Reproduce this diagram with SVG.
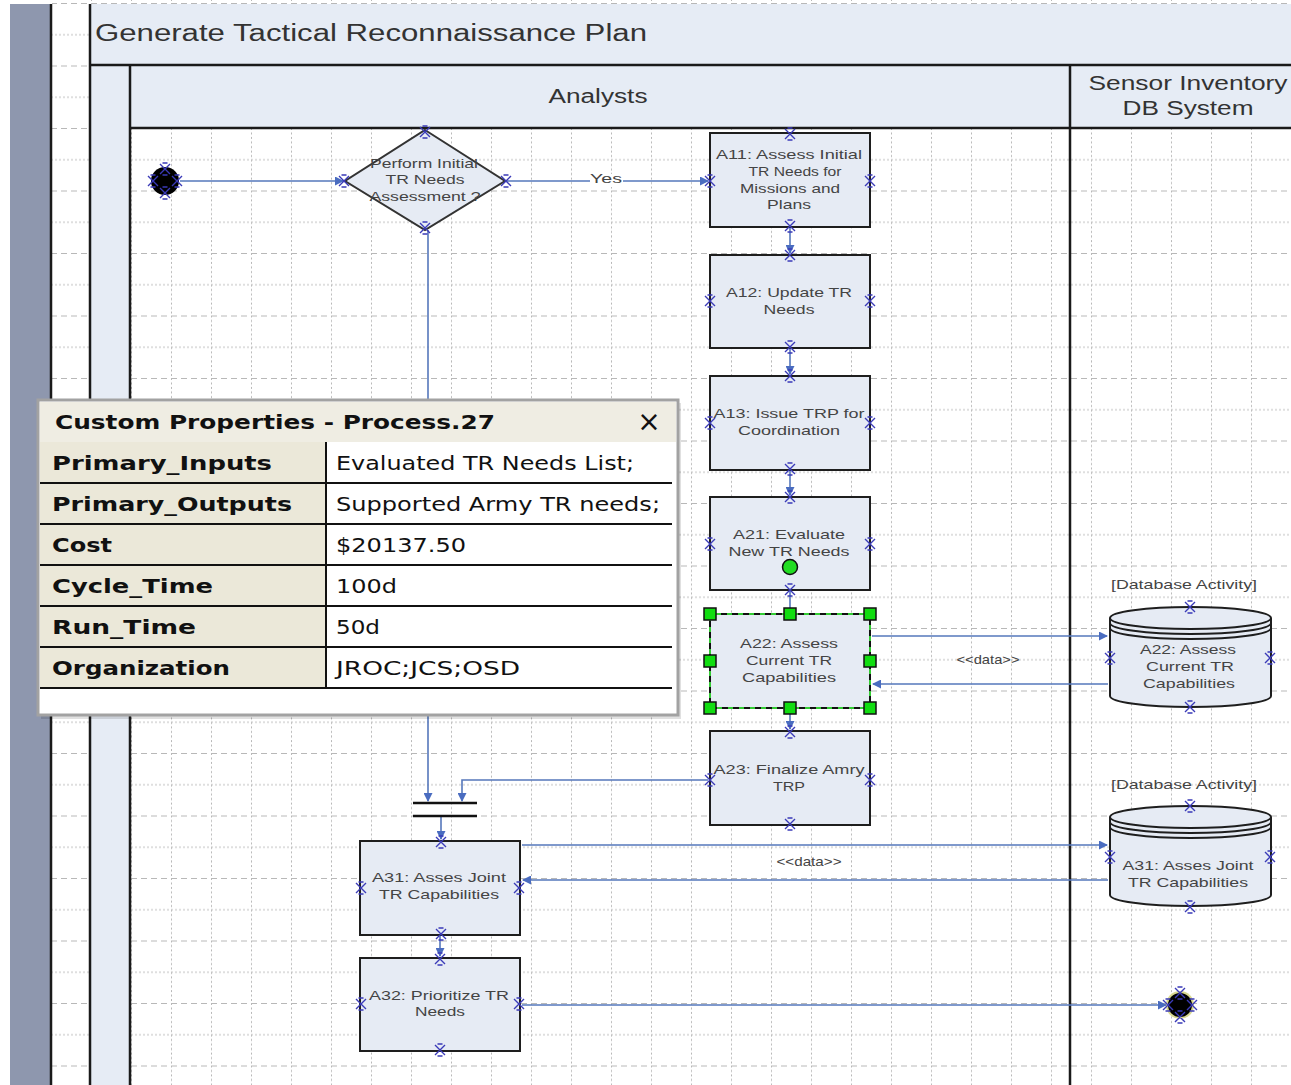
<svg xmlns="http://www.w3.org/2000/svg" xmlns:xlink="http://www.w3.org/1999/xlink" width="1291" height="1085" viewBox="0 0 1291 1085">
<style>
.lane{fill:#e6ecf5}
.bl{stroke:#1a1a1a;stroke-width:2.5;fill:none}
.box{fill:#e6ebf4;stroke:#1e1e1e;stroke-width:2}
.t{font-family:"Liberation Sans",Arial,sans-serif;font-size:13px;fill:#444;text-anchor:middle}
.hd{font-family:"Liberation Sans",Arial,sans-serif;fill:#333;}
.cn{stroke:#5577bb;stroke-width:1.6;fill:none}
.cp{stroke:#3a3ab8;stroke-width:1.4;fill:none}
.pl{font-family:"DejaVu Sans",Verdana,sans-serif;font-size:19px;font-weight:bold;fill:#111}
.pv{font-family:"DejaVu Sans",Verdana,sans-serif;font-size:19px;fill:#111}
.rl{stroke:#111;stroke-width:2}
.hdl{fill:#11dd11;stroke:#111;stroke-width:1.5}
</style>
<defs>
<pattern id="grid" patternUnits="userSpaceOnUse" x="11" y="128" width="40" height="62.5">
<line x1="0.5" y1="0" x2="0.5" y2="62.5" stroke="#b8b8b8" stroke-dasharray="2 2.5"/>
<line x1="0" y1="0.5" x2="40" y2="0.5" stroke="#b8b8b8" stroke-dasharray="6 4"/>
<line x1="0" y1="31.75" x2="40" y2="31.75" stroke="#c0c0c0" stroke-dasharray="2 2"/>
</pattern>
<marker id="ar" markerUnits="userSpaceOnUse" markerWidth="9" markerHeight="9" refX="8" refY="4.5" orient="auto">
<path d="M0,0 L9,4.5 L0,9 z" fill="#4a6cc0"/>
</marker>
<path id="x" class="cp" d="M-5,-5 L5,5 M-5,5 L5,-5 M-2.5,-6 L2.5,-6 M-2.5,6 L2.5,6"/>
</defs>

<!-- background -->
<rect x="0" y="0" width="1291" height="1085" fill="#ffffff"/>
<rect x="52" y="0" width="1239" height="1085" fill="url(#grid)"/>
<rect x="10" y="4" width="40" height="1081" fill="#8e97ae"/>
<rect class="lane" x="90" y="4" width="1201" height="61"/>
<rect class="lane" x="130" y="65" width="1161" height="63"/>
<rect class="lane" x="90" y="65" width="40" height="1020"/>
<g id="frame">
<line class="bl" x1="51" y1="4" x2="51" y2="1085"/>
<line class="bl" x1="90" y1="4" x2="90" y2="1085"/>
<line class="bl" x1="130" y1="65" x2="130" y2="1085"/>
<line class="bl" x1="1070" y1="65" x2="1070" y2="1085"/>
<line class="bl" x1="90" y1="65" x2="1291" y2="65"/>
<line class="bl" x1="130" y1="128" x2="1291" y2="128"/>
</g>
<text class="hd" x="95" y="41" font-size="23" textLength="552" lengthAdjust="spacingAndGlyphs">Generate Tactical Reconnaissance Plan</text>
<text class="hd" x="598" y="103" font-size="20" text-anchor="middle" textLength="99" lengthAdjust="spacingAndGlyphs">Analysts</text>
<text class="hd" x="1188" y="90" font-size="20" text-anchor="middle" textLength="199" lengthAdjust="spacingAndGlyphs">Sensor Inventory</text>
<text class="hd" x="1188" y="115" font-size="20" text-anchor="middle" textLength="131" lengthAdjust="spacingAndGlyphs">DB System</text>

<!-- connectors -->
<g id="connectors">
<line class="cn" x1="180" y1="181" x2="343" y2="181" marker-end="url(#ar)"/>
<line class="cn" x1="507" y1="181" x2="708" y2="181" marker-end="url(#ar)"/>
<rect x="590" y="174" width="33" height="13" fill="#ffffff"/>
<text class="t" x="606" y="183" textLength="32" lengthAdjust="spacingAndGlyphs">Yes</text>
<line class="cn" x1="428" y1="230" x2="428" y2="801" marker-end="url(#ar)"/>
<line class="cn" x1="790" y1="227" x2="790" y2="253" marker-end="url(#ar)"/>
<line class="cn" x1="790" y1="348" x2="790" y2="374" marker-end="url(#ar)"/>
<line class="cn" x1="790" y1="470" x2="790" y2="495" marker-end="url(#ar)"/>
<line class="cn" x1="790" y1="590" x2="790" y2="612"/>
<line class="cn" x1="790" y1="708" x2="790" y2="729" marker-end="url(#ar)"/>
<line class="cn" x1="872" y1="636" x2="1107" y2="636" marker-end="url(#ar)"/>
<line class="cn" x1="1108" y1="684" x2="873" y2="684" marker-end="url(#ar)"/>
<text class="t" x="988" y="664" font-size="11" textLength="63" lengthAdjust="spacingAndGlyphs">&lt;&lt;data&gt;&gt;</text>
<polyline class="cn" points="708,780 462,780 462,801" marker-end="url(#ar)"/>
<line class="cn" x1="441" y1="817" x2="441" y2="839" marker-end="url(#ar)"/>
<line class="cn" x1="440" y1="935" x2="440" y2="956" marker-end="url(#ar)"/>
<line class="cn" x1="522" y1="845" x2="1107" y2="845" marker-end="url(#ar)"/>
<line class="cn" x1="1108" y1="880" x2="523" y2="880" marker-end="url(#ar)"/>
<text class="t" x="809" y="866" font-size="11" textLength="65" lengthAdjust="spacingAndGlyphs">&lt;&lt;data&gt;&gt;</text>
<line class="cn" x1="522" y1="1005" x2="1166" y2="1005" marker-end="url(#ar)"/>
</g>

<!-- nodes -->
<g id="start">
<circle cx="165" cy="181" r="14" fill="#000"/>
<use href="#x" x="165" y="169"/><use href="#x" x="165" y="193"/><use href="#x" x="153" y="181"/><use href="#x" x="177" y="181"/>
</g>
<g id="decision">
<polygon class="box" points="425,130 505,181 425,230 345,181" style="stroke:#333"/>
<text class="t" x="424" y="168" textLength="108" lengthAdjust="spacingAndGlyphs">Perform Initial</text>
<text class="t" x="425" y="184" textLength="79" lengthAdjust="spacingAndGlyphs">TR Needs</text>
<text class="t" x="425" y="201" textLength="111" lengthAdjust="spacingAndGlyphs">Assessment ?</text>
<use href="#x" x="425" y="132"/><use href="#x" x="344" y="181"/><use href="#x" x="506" y="181"/><use href="#x" x="425" y="228"/>
</g>
<g id="A11">
<rect class="box" x="710" y="133" width="160" height="94"/>
<text class="t" x="789" y="159" textLength="146" lengthAdjust="spacingAndGlyphs">A11: Assess Initial</text>
<text class="t" x="795" y="176" textLength="93" lengthAdjust="spacingAndGlyphs">TR Needs for</text>
<text class="t" x="790" y="193" textLength="100" lengthAdjust="spacingAndGlyphs">Missions and</text>
<text class="t" x="789" y="209" textLength="44" lengthAdjust="spacingAndGlyphs">Plans</text>
<use href="#x" x="790" y="134"/><use href="#x" x="710" y="181"/><use href="#x" x="870" y="181"/><use href="#x" x="790" y="226"/>
</g>
<g id="A12">
<rect class="box" x="710" y="255" width="160" height="93"/>
<text class="t" x="789" y="297" textLength="126" lengthAdjust="spacingAndGlyphs">A12: Update TR</text>
<text class="t" x="789" y="314" textLength="51" lengthAdjust="spacingAndGlyphs">Needs</text>
<use href="#x" x="790" y="255"/><use href="#x" x="710" y="301"/><use href="#x" x="870" y="301"/><use href="#x" x="790" y="347"/>
</g>
<g id="A13">
<rect class="box" x="710" y="376" width="160" height="94"/>
<text class="t" x="789" y="418" textLength="151" lengthAdjust="spacingAndGlyphs">A13: Issue TRP for</text>
<text class="t" x="789" y="435" textLength="102" lengthAdjust="spacingAndGlyphs">Coordination</text>
<use href="#x" x="790" y="376"/><use href="#x" x="710" y="423"/><use href="#x" x="870" y="423"/><use href="#x" x="790" y="469"/>
</g>
<g id="A21">
<rect class="box" x="710" y="497" width="160" height="93"/>
<text class="t" x="789" y="539" textLength="112" lengthAdjust="spacingAndGlyphs">A21: Evaluate</text>
<text class="t" x="789" y="556" textLength="121" lengthAdjust="spacingAndGlyphs">New TR Needs</text>
<use href="#x" x="790" y="497"/><use href="#x" x="710" y="544"/><use href="#x" x="870" y="544"/><use href="#x" x="790" y="590"/>
<circle cx="790" cy="567" r="7.5" fill="#22dd22" stroke="#111" stroke-width="1.5"/>
</g>
<g id="A22">
<rect x="710" y="614" width="160" height="94" fill="#e6ebf4" stroke="#33cc33" stroke-width="2"/>
<rect x="710" y="614" width="160" height="94" fill="none" stroke="#111" stroke-width="2" stroke-dasharray="6 5"/>
<text class="t" x="789" y="648" textLength="98" lengthAdjust="spacingAndGlyphs">A22: Assess</text>
<text class="t" x="789" y="665" textLength="86" lengthAdjust="spacingAndGlyphs">Current TR</text>
<text class="t" x="789" y="682" textLength="94" lengthAdjust="spacingAndGlyphs">Capabilities</text>
<rect class="hdl" x="704" y="608" width="12" height="12"/><rect class="hdl" x="784" y="608" width="12" height="12"/><rect class="hdl" x="864" y="608" width="12" height="12"/>
<rect class="hdl" x="704" y="655" width="12" height="12"/><rect class="hdl" x="864" y="655" width="12" height="12"/>
<rect class="hdl" x="704" y="702" width="12" height="12"/><rect class="hdl" x="784" y="702" width="12" height="12"/><rect class="hdl" x="864" y="702" width="12" height="12"/>
</g>
<g id="A23">
<rect class="box" x="710" y="731" width="160" height="94"/>
<text class="t" x="789" y="774" textLength="151" lengthAdjust="spacingAndGlyphs">A23: Finalize Amry</text>
<text class="t" x="789" y="791" textLength="32" lengthAdjust="spacingAndGlyphs">TRP</text>
<use href="#x" x="790" y="732"/><use href="#x" x="710" y="780"/><use href="#x" x="870" y="780"/><use href="#x" x="790" y="824"/>
</g>
<g id="DB1">
<text class="t" x="1184" y="589" font-size="11.5" textLength="146" lengthAdjust="spacingAndGlyphs">[Database Activity]</text>
<path class="box" d="M1110,618 A80.5,11 0 0 1 1271,618 L1271,696 A80.5,11 0 0 1 1110,696 Z"/>
<path d="M1110,618 A80.5,11 0 0 0 1271,618 M1110,623 A80.5,11 0 0 0 1271,623 M1110,628 A80.5,11 0 0 0 1271,628" fill="none" stroke="#1e1e1e" stroke-width="2"/>
<text class="t" x="1188" y="654" textLength="96" lengthAdjust="spacingAndGlyphs">A22: Assess</text>
<text class="t" x="1190" y="671" textLength="88" lengthAdjust="spacingAndGlyphs">Current TR</text>
<text class="t" x="1189" y="688" textLength="92" lengthAdjust="spacingAndGlyphs">Capabilities</text>
<use href="#x" x="1190" y="607"/><use href="#x" x="1110" y="658"/><use href="#x" x="1270" y="658"/><use href="#x" x="1190" y="707"/>
</g>
<g id="DB2">
<text class="t" x="1184" y="789" font-size="11.5" textLength="146" lengthAdjust="spacingAndGlyphs">[Database Activity]</text>
<path class="box" d="M1110,817 A80.5,11 0 0 1 1271,817 L1271,895 A80.5,11 0 0 1 1110,895 Z"/>
<path d="M1110,817 A80.5,11 0 0 0 1271,817 M1110,822 A80.5,11 0 0 0 1271,822 M1110,827 A80.5,11 0 0 0 1271,827" fill="none" stroke="#1e1e1e" stroke-width="2"/>
<text class="t" x="1188" y="870" textLength="131" lengthAdjust="spacingAndGlyphs">A31: Asses Joint</text>
<text class="t" x="1188" y="887" textLength="120" lengthAdjust="spacingAndGlyphs">TR Capabilities</text>
<use href="#x" x="1190" y="806"/><use href="#x" x="1110" y="857"/><use href="#x" x="1270" y="857"/><use href="#x" x="1190" y="907"/>
</g>
<g id="join">
<line x1="413" y1="803" x2="477" y2="803" stroke="#111" stroke-width="2.5"/>
<line x1="413" y1="816" x2="477" y2="816" stroke="#111" stroke-width="2.5"/>
</g>
<g id="A31">
<rect class="box" x="360" y="841" width="160" height="94"/>
<text class="t" x="439" y="882" textLength="134" lengthAdjust="spacingAndGlyphs">A31: Asses Joint</text>
<text class="t" x="439" y="899" textLength="120" lengthAdjust="spacingAndGlyphs">TR Capabilities</text>
<use href="#x" x="441" y="842"/><use href="#x" x="361" y="888"/><use href="#x" x="519" y="888"/><use href="#x" x="441" y="934"/>
</g>
<g id="A32">
<rect class="box" x="360" y="958" width="160" height="93"/>
<text class="t" x="439" y="1000" textLength="140" lengthAdjust="spacingAndGlyphs">A32: Prioritize TR</text>
<text class="t" x="440" y="1016" textLength="50" lengthAdjust="spacingAndGlyphs">Needs</text>
<use href="#x" x="440" y="959"/><use href="#x" x="361" y="1004"/><use href="#x" x="519" y="1004"/><use href="#x" x="440" y="1050"/>
</g>
<g id="end">
<circle cx="1180" cy="1005" r="14" fill="#d8d890"/>
<circle cx="1180" cy="1005" r="12" fill="#000"/>
<use href="#x" x="1180" y="993"/><use href="#x" x="1180" y="1017"/><use href="#x" x="1168" y="1005"/><use href="#x" x="1192" y="1005"/>
</g>

<!-- properties panel -->
<g id="panel">
<rect x="41" y="403" width="640" height="316" fill="#000" opacity="0.12"/>
<rect x="38" y="400" width="640" height="315" fill="#ffffff" stroke="#a2a2a2" stroke-width="3"/>
<rect x="40" y="402" width="636" height="40" fill="#efede3"/>
<rect x="40" y="442" width="286" height="246" fill="#ebe8d9"/>
<text class="pl" x="55" y="429" font-size="20" textLength="440" lengthAdjust="spacingAndGlyphs">Custom Properties - Process.27</text>
<text x="649" y="431" font-family="DejaVu Sans,sans-serif" font-size="28" text-anchor="middle" fill="#111">×</text>
<line class="rl" x1="326" y1="442" x2="326" y2="688"/>
<line class="rl" x1="40" y1="483" x2="672" y2="483"/>
<line class="rl" x1="40" y1="524" x2="672" y2="524"/>
<line class="rl" x1="40" y1="565" x2="672" y2="565"/>
<line class="rl" x1="40" y1="606" x2="672" y2="606"/>
<line class="rl" x1="40" y1="647" x2="672" y2="647"/>
<line class="rl" x1="40" y1="688" x2="672" y2="688"/>
<text class="pl" x="52" y="470" textLength="220" lengthAdjust="spacingAndGlyphs">Primary_Inputs</text>
<text class="pl" x="52" y="511" textLength="240" lengthAdjust="spacingAndGlyphs">Primary_Outputs</text>
<text class="pl" x="52" y="552" textLength="60" lengthAdjust="spacingAndGlyphs">Cost</text>
<text class="pl" x="52" y="593" textLength="161" lengthAdjust="spacingAndGlyphs">Cycle_Time</text>
<text class="pl" x="52" y="634" textLength="144" lengthAdjust="spacingAndGlyphs">Run_Time</text>
<text class="pl" x="52" y="675" textLength="178" lengthAdjust="spacingAndGlyphs">Organization</text>
<text class="pv" x="336" y="470" textLength="298" lengthAdjust="spacingAndGlyphs">Evaluated TR Needs List;</text>
<text class="pv" x="336" y="511" textLength="324" lengthAdjust="spacingAndGlyphs">Supported Army TR needs;</text>
<text class="pv" x="336" y="552" textLength="130" lengthAdjust="spacingAndGlyphs">$20137.50</text>
<text class="pv" x="336" y="593" textLength="61" lengthAdjust="spacingAndGlyphs">100d</text>
<text class="pv" x="336" y="634" textLength="44" lengthAdjust="spacingAndGlyphs">50d</text>
<text class="pv" x="336" y="675" textLength="184" lengthAdjust="spacingAndGlyphs">JROC;JCS;OSD</text>
</g>
</svg>
